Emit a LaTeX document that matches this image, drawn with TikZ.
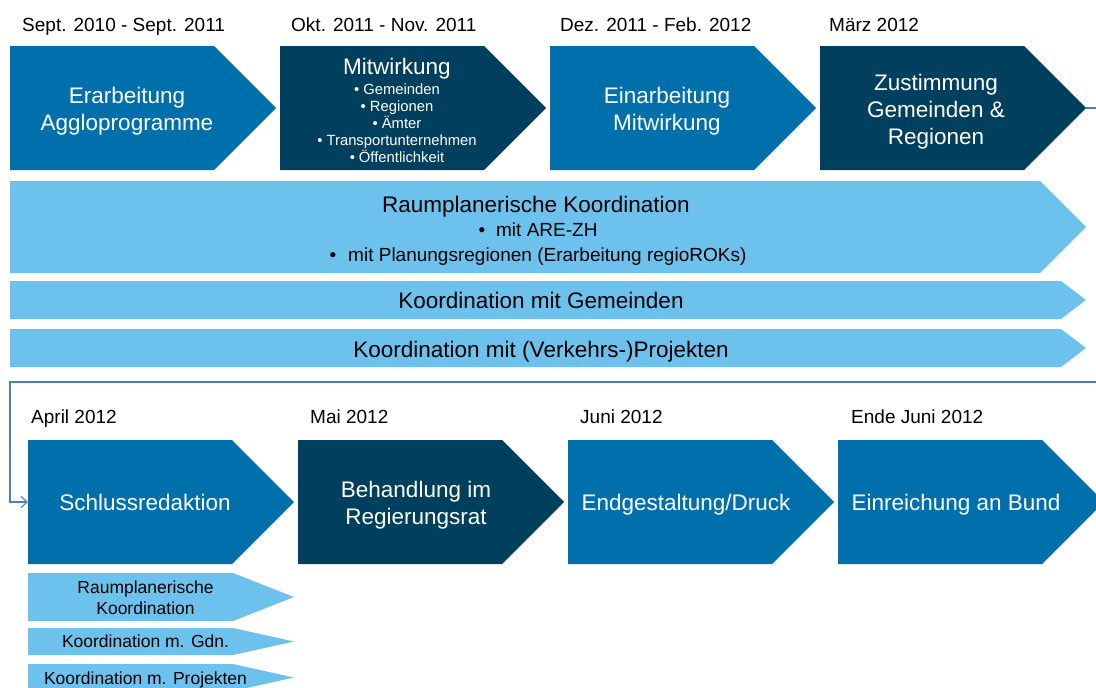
\documentclass[tikz,border=0pt]{standalone}
\usepackage{fontspec}
\setmainfont{Liberation Sans}
\usetikzlibrary{arrows.meta}
\definecolor{midblue}{HTML}{0070AD}
\definecolor{darkblue}{HTML}{00405E}
\definecolor{lightblue}{HTML}{6CC2EC}
\definecolor{connblue}{HTML}{4A82B4}
\newcommand\chevshape[7]{%
  \fill[#7] (#2,#3) -- ++({#4-#6},0) -- ++(#6,{#5/2}) -- ++(-#6,{#5/2}) -- ++({#6-#4},0) -- cycle;
  \coordinate (#1-tip) at ({#2+#4},{#3+#5/2});
  \coordinate (#1-w) at (#2,{#3+#5/2});
}
\begin{document}
\begin{tikzpicture}[x=1pt,y=-1pt,
  btext/.style={text=white,align=center,inner sep=0pt,font=\fontsize{22.5}{27}\selectfont},
  mtext/.style={text=white,align=center,inner sep=0pt,font=\fontsize{14.8}{17}\selectfont},
  ltext/.style={text=black,align=center,inner sep=0pt,font=\fontsize{22.5}{27}\selectfont},
  bultext/.style={text=black,align=center,inner sep=0pt,font=\fontsize{19}{25}\selectfont},
  smalltext/.style={text=black,align=center,inner sep=0pt,font=\fontsize{17.5}{21}\selectfont},
  datetext/.style={text=black,anchor=base west,inner sep=0pt,font=\fontsize{19}{23}\selectfont},
  conn/.style={draw=connblue,line width=1.3pt}]
\useasboundingbox (0,0) rectangle (1096,688);
% top row
\chevshape{b1}{10}{46}{266}{124}{62}{midblue}
\chevshape{b2}{280}{46}{266}{124}{62}{darkblue}
\chevshape{b3}{550}{46}{266}{124}{62}{midblue}
\chevshape{b4}{820}{46}{266}{124}{62}{darkblue}
% bands
\chevshape{r1}{10}{181}{1076}{92}{46}{lightblue}
\chevshape{r2}{10}{281}{1076}{38}{25}{lightblue}
\chevshape{r3}{10}{329}{1076}{38}{25}{lightblue}
% bottom row
\chevshape{c1}{28}{440}{266}{124}{62}{midblue}
\chevshape{c2}{298}{440}{266}{124}{62}{darkblue}
\chevshape{c3}{568}{440}{266}{124}{62}{midblue}
\chevshape{c4}{838}{440}{266}{124}{62}{midblue}
% small bands
\chevshape{s1}{28}{573}{266}{48}{61}{lightblue}
\chevshape{s2}{28}{628}{266}{27}{61}{lightblue}
\chevshape{s3}{28}{664}{266}{27}{61}{lightblue}
% dates
\node[datetext] (d1) at (22,31) {Sept. 2010 - Sept. 2011};
\node[datetext] (d2) at (291,31) {Okt. 2011 - Nov. 2011};
\node[datetext] (d3) at (560,31) {Dez. 2011 - Feb. 2012};
\node[datetext] (d4) at (829,31) {März 2012};
\node[datetext] (d5) at (31,423) {April 2012};
\node[datetext] (d6) at (310,423) {Mai 2012};
\node[datetext] (d7) at (580,423) {Juni 2012};
\node[datetext] (d8) at (851,423) {Ende Juni 2012};
% box texts
\node[btext] (t1) at (127,111.5) {Erarbeitung\\Aggloprogramme};
\node[btext] (t2) at (397,69) {Mitwirkung};
\node[mtext] (t2b) at (397,123.5) {•\hspace{4pt}Gemeinden\\•\hspace{4pt}Regionen\\•\hspace{4pt}Ämter\\•\hspace{4pt}Transportunternehmen\\•\hspace{4pt}Öffentlichkeit};
\node[btext] (t3) at (667,111.5) {Einarbeitung\\Mitwirkung};
\node[btext] (t4) at (936,112) {Zustimmung\\Gemeinden \&\\Regionen};
% band texts
\node[ltext] (rt1) at (536,207) {Raumplanerische Koordination};
\node[bultext] (rt1b) at (538,244.5) {•\hspace{11pt}mit ARE-ZH\\•\hspace{12pt}mit Planungsregionen (Erarbeitung regioROKs)};
\node[ltext] (rt2) at (541,300) {Koordination mit Gemeinden};
\node[ltext] (rt3) at (541,352) {Koordination mit (Verkehrs-)Projekten};
% bottom texts
\node[btext] (u1) at (145,502) {Schlussredaktion};
\node[btext] (u2) at (416,505) {Behandlung im\\Regierungsrat};
\node[btext] (u3) at (686,505) {Endgestaltung/Druck};
\node[btext] (u4) at (956,505) {Einreichung an Bund};
% small band texts
\node[smalltext] (st1) at (145.5,597.5) {Raumplanerische\\Koordination};
\node[smalltext] (st2) at (145.5,641.5) {Koordination m. Gdn.};
\node[smalltext] (st3) at (145.5,680) {Koordination m. Projekten};
% connector
\coordinate (k1) at (1112,108);
\coordinate (k2) at (1112,382);
\coordinate (k3) at (10,382);
\coordinate (k4) at (10,502);
\draw[conn,-{Straight Barb[length=6pt,width=11pt,line width=1.1pt]}] (b4-tip) -- (k1) -- (k2) -- (k3) -- (k4) -- (c1-w);
\end{tikzpicture}
\end{document}
